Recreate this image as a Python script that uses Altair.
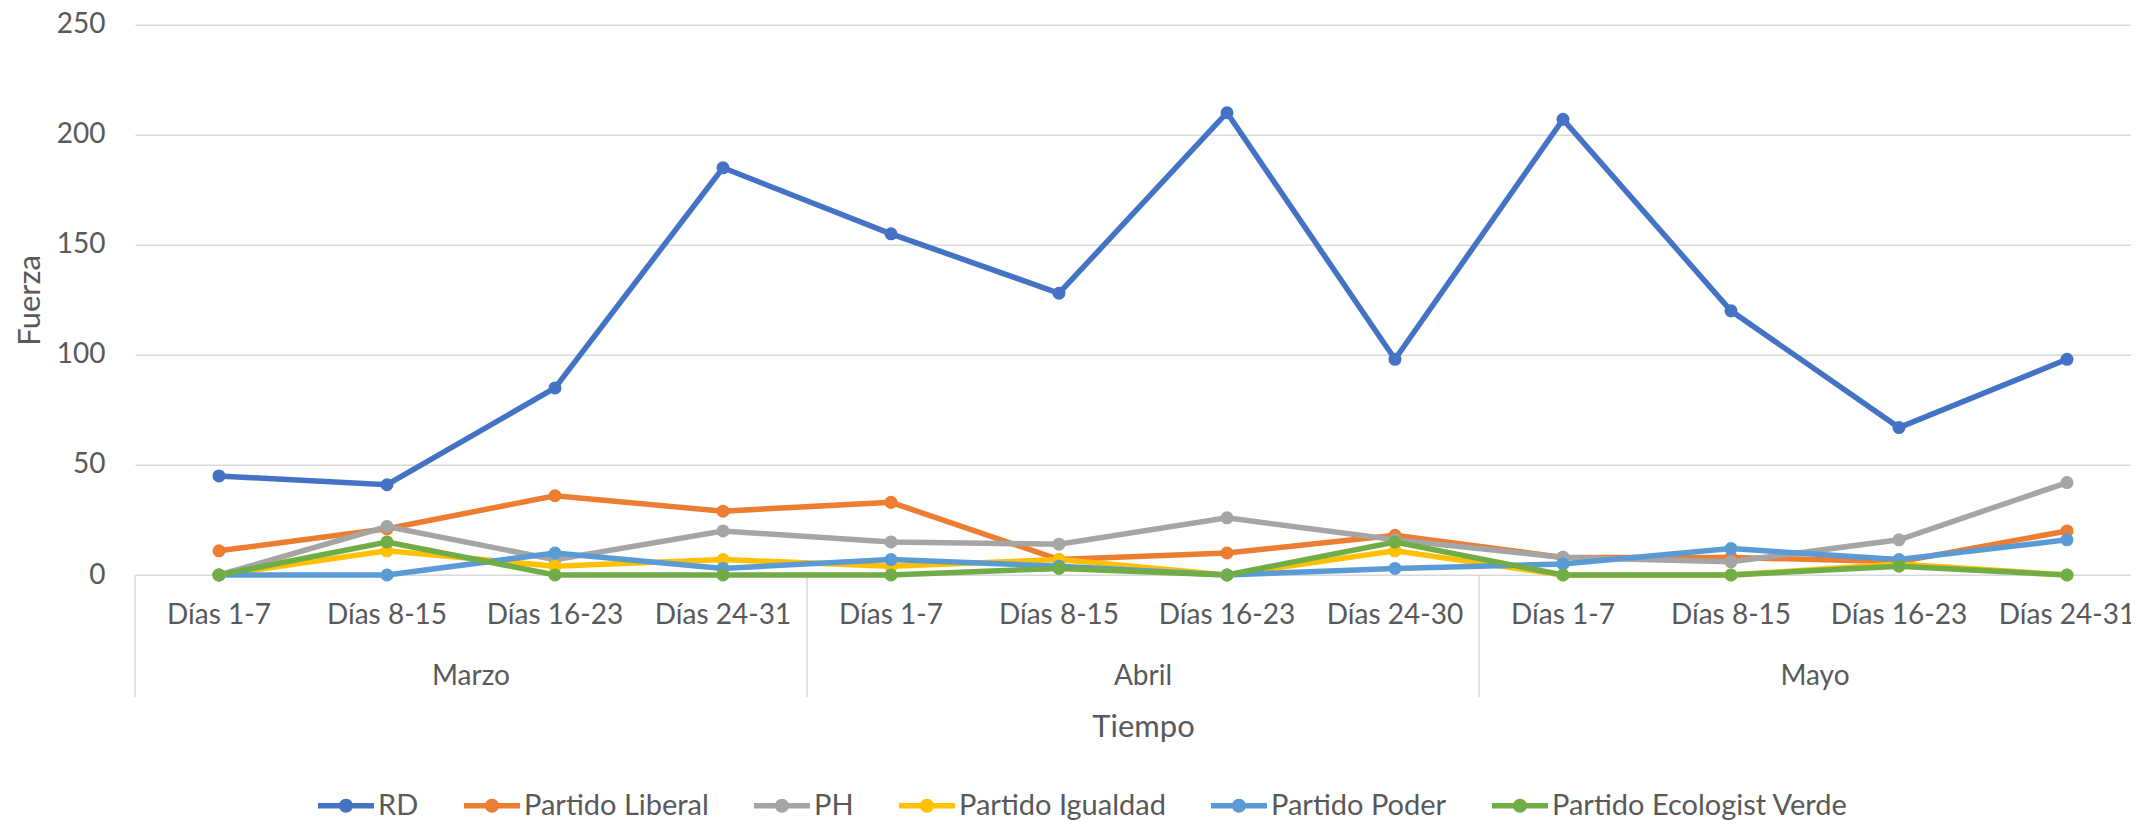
import altair as alt
import pandas as pd

# ---------------- data ----------------
weeks = ["Días 1-7", "Días 8-15", "Días 16-23", "Días 24-31",
         "Días 1-7", "Días 8-15", "Días 16-23", "Días 24-30",
         "Días 1-7", "Días 8-15", "Días 16-23", "Días 24-31"]
months = ["Marzo", "Abril", "Mayo"]
month_centers = [1.5, 5.5, 9.5]
month_bounds = [-0.5, 3.5, 7.5]

series_names = ["RD", "Partido Liberal", "PH", "Partido Igualdad",
                "Partido Poder", "Partido Ecologist Verde"]
rd = [45, 41, 85, 185, 155, 128, 210, 98, 207, 120, 67, 98]
liberal = [11, 21, 36, 29, 33, 7, 10, 18, 8, 8, 6, 20]
ph = [0, 22, 7, 20, 15, 14, 26, 16, 8, 6, 16, 42]
igualdad = [0, 11, 4, 7, 4, 7, 0, 11, 0, 0, 5, 0]
poder = [0, 0, 10, 3, 7, 4, 0, 3, 5, 12, 7, 16]
verde = [0, 15, 0, 0, 0, 3, 0, 15, 0, 0, 4, 0]
series_values = [rd, liberal, ph, igualdad, poder, verde]
colors = ["#4472C4", "#ED7D31", "#A5A5A5", "#FFC000", "#5B9BD5", "#70AD47"]
y_ticks = [0, 50, 100, 150, 200, 250]

rows = []
for s, vals in zip(series_names, series_values):
    for i, v in enumerate(vals):
        rows.append({"idx": i, "serie": s, "valor": v})
df = pd.DataFrame(rows)
df_weeks = pd.DataFrame({"idx": list(range(len(weeks))), "label": weeks})
df_months = pd.DataFrame({"idx": month_centers, "label": months})
df_bounds = pd.DataFrame({"idx": month_bounds})

# ---------------- layout ----------------
W = 1996
H = 550.3
FONT = "Lato"
TXT = "#595959"
GRID = "#D9D9D9"

xscale = alt.Scale(domain=[-0.5, 11.381], nice=False, zero=False)
yscale = alt.Scale(domain=[0, 250], nice=False)

color_scale = alt.Scale(domain=series_names, range=colors)

legend_path = ("M-1,-0.1H1V0.1H-1Z "
               "M0.25,0A0.25,0.25 0 1,1 -0.25,0A0.25,0.25 0 1,1 0.25,0Z")

legend = alt.Legend(
    title=None, orient="none", direction="horizontal",
    columns=6, legendX=183, legendY=753,
    symbolType=legend_path, symbolSize=3136,
    symbolStrokeWidth=0, symbolOpacity=1,
    labelFont=FONT, labelFontSize=29, labelColor=TXT, labelLimit=0,
    labelOffset=4, columnPadding=45, padding=0)

lines = alt.Chart(df).mark_line(strokeWidth=5.5).encode(
    x=alt.X("idx:Q", scale=xscale,
            axis=alt.Axis(labels=False, ticks=False, domain=False, grid=False,
                          title="Tiempo", titleFont=FONT, titleFontSize=31,
                          titleFontWeight="normal", titleColor=TXT,
                          titleX=1008, titleY=152, titleBaseline="middle",
                          titleAlign="center")),
    y=alt.Y("valor:Q", scale=yscale,
            axis=alt.Axis(values=y_ticks, ticks=False, domain=False,
                          grid=True, gridColor=GRID, gridWidth=1.5,
                          labelFont=FONT, labelFontSize=28, labelColor=TXT,
                          labelPadding=30,
                          title="Fuerza", titleFont=FONT, titleFontSize=31,
                          titleFontWeight="normal", titleColor=TXT,
                          titleAngle=270, titleX=-105, titleY=H / 2,
                          titleBaseline="middle", titleAlign="center")),
    color=alt.Color("serie:N", scale=color_scale, legend=legend),
    detail="serie:N",
)

points = alt.Chart(df).mark_point(filled=True, size=170, opacity=1).encode(
    x=alt.X("idx:Q", scale=xscale),
    y=alt.Y("valor:Q", scale=yscale),
    color=alt.Color("serie:N", scale=color_scale, legend=legend),
)

week_text = alt.Chart(df_weeks).mark_text(
    font=FONT, fontSize=28, color=TXT, baseline="middle", align="center"
).encode(
    x=alt.X("idx:Q", scale=xscale),
    y=alt.value(H + 41),
    text="label:N",
)

month_text = alt.Chart(df_months).mark_text(
    font=FONT, fontSize=28, color=TXT, baseline="middle", align="center"
).encode(
    x=alt.X("idx:Q", scale=xscale),
    y=alt.value(H + 102),
    text="label:N",
)

separators = alt.Chart(df_bounds).mark_rule(color=GRID, strokeWidth=1.5).encode(
    x=alt.X("idx:Q", scale=xscale),
    y=alt.value(H),
    y2=alt.value(H + 122),
)

chart = alt.layer(separators, lines, points, week_text, month_text).properties(
    width=W, height=H,
    autosize=alt.AutoSizeParams(type="none"),
    padding={"left": 127, "top": 16.7, "right": 0, "bottom": 246},
).configure_view(stroke=None)

chart.save("out.html", embed_options={"renderer": "svg", "actions": False})
